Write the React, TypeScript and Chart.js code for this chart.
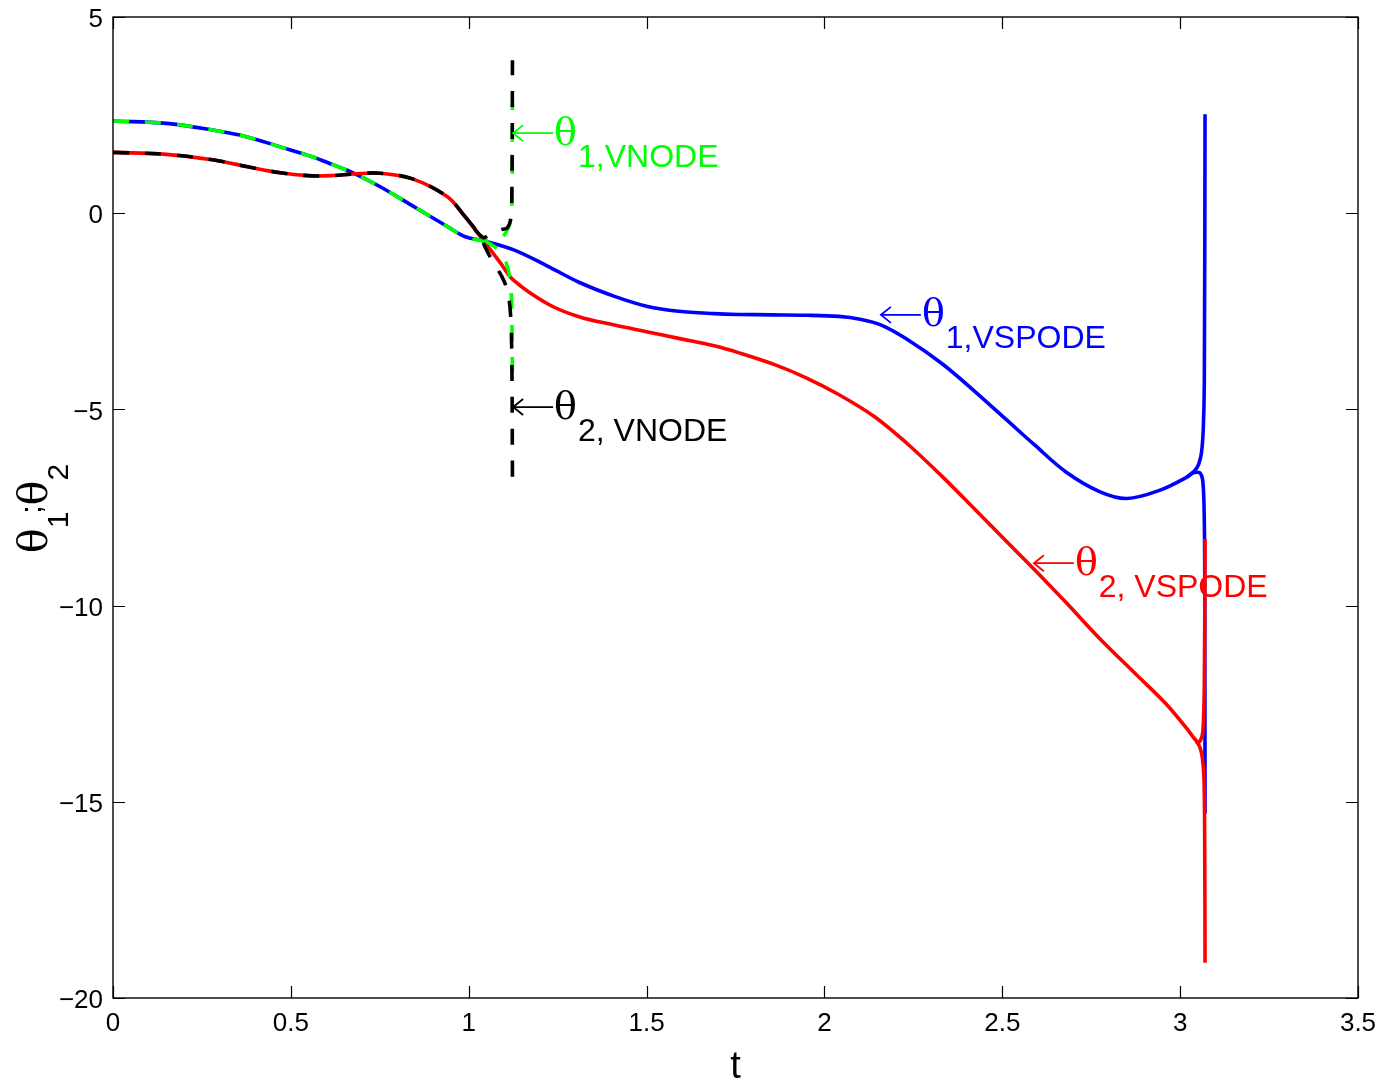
import React, { useEffect, useRef } from 'react';
import { Chart, registerables } from 'chart.js';

Chart.register(...registerables);

// ---------- data ----------
const xTickValues = [0, 0.5, 1, 1.5, 2, 2.5, 3, 3.5];
const xTickLabels = ['0', '0.5', '1', '1.5', '2', '2.5', '3', '3.5'];
const yTickValues = [-20, -15, -10, -5, 0, 5];
const yTickLabels = ['\u221220', '\u221215', '\u221210', '\u22125', '0', '5'];

// theta_1, VSPODE (blue, solid)
const tTheta1Vspode = [0, 0.15, 0.28, 0.375, 0.47, 0.56, 0.62, 0.675, 0.75, 0.84, 0.94, 0.99, 1.04, 1.125, 1.22, 1.31, 1.41, 1.5, 1.59, 1.69, 1.76, 1.85, 1.95, 2.04, 2.1, 2.16, 2.23, 2.33, 2.42, 2.51, 2.59, 2.68, 2.775, 2.85, 2.94, 3.02, 3.04, 3.052, 3.06, 3.065, 3.068, 3.07];
const theta1Vspode = [2.35, 2.29, 2.12, 1.95, 1.69, 1.44, 1.23, 1.03, 0.68, 0.2, -0.34, -0.6, -0.7, -0.93, -1.34, -1.76, -2.12, -2.37, -2.5, -2.56, -2.58, -2.59, -2.6, -2.63, -2.7, -2.85, -3.2, -3.83, -4.52, -5.25, -5.9, -6.6, -7.1, -7.27, -7.07, -6.72, -6.57, -6.4, -6.1, -5.5, -4.3, 2.52];
const tTheta1VspodeLow = [3.02, 3.035, 3.047, 3.056, 3.063, 3.067, 3.069, 3.07];
const theta1VspodeLow = [-6.72, -6.62, -6.6, -6.62, -6.78, -7.4, -9.0, -15.3];

// theta_2, VSPODE (red, solid)
const tTheta2Vspode = [0, 0.15, 0.28, 0.375, 0.47, 0.56, 0.62, 0.675, 0.75, 0.84, 0.94, 0.99, 1.04, 1.09, 1.125, 1.22, 1.31, 1.41, 1.5, 1.59, 1.69, 1.76, 1.86, 1.95, 2.04, 2.14, 2.23, 2.33, 2.42, 2.51, 2.59, 2.68, 2.775, 2.87, 2.96, 3.02, 3.05, 3.058, 3.064, 3.068, 3.07];
const theta2Vspode = [1.55, 1.5, 1.36, 1.19, 1.03, 0.95, 0.96, 1.0, 1.02, 0.88, 0.42, -0.09, -0.68, -1.28, -1.7, -2.3, -2.64, -2.85, -3.02, -3.19, -3.38, -3.56, -3.86, -4.2, -4.62, -5.18, -5.85, -6.7, -7.52, -8.35, -9.08, -9.93, -10.85, -11.7, -12.5, -13.15, -13.48, -13.42, -13.2, -12.0, -8.3];
const tTheta2VspodeLow = [3.045, 3.055, 3.062, 3.067, 3.069, 3.07];
const theta2VspodeLow = [-13.45, -13.6, -13.85, -14.4, -16, -19.1];

// theta_1, VNODE (green, dashed)
const tTheta1Vnode = [0, 0.15, 0.28, 0.375, 0.47, 0.56, 0.62, 0.675, 0.75, 0.84, 0.94, 0.99, 1.04, 1.065, 1.095, 1.11, 1.119, 1.122, 1.123];
const theta1Vnode = [2.35, 2.29, 2.12, 1.95, 1.69, 1.44, 1.23, 1.03, 0.68, 0.2, -0.34, -0.6, -0.7, -0.68, -0.6, -0.4, -0.1, 0.6, 2.8];
const tTheta1VnodeLow = [1.04, 1.06, 1.085, 1.105, 1.117, 1.121, 1.123];
const theta1VnodeLow = [-0.7, -0.78, -0.95, -1.25, -1.75, -2.6, -4.3];

// theta_2, VNODE (black, dashed)
const tTheta2Vnode = [0, 0.15, 0.28, 0.375, 0.47, 0.56, 0.62, 0.675, 0.75, 0.84, 0.94, 0.99, 1.04, 1.06, 1.074, 1.095, 1.108, 1.117, 1.121, 1.123];
const theta2Vnode = [1.55, 1.5, 1.36, 1.19, 1.03, 0.95, 0.96, 1.0, 1.02, 0.88, 0.42, -0.09, -0.62, -0.52, -0.47, -0.41, -0.38, -0.2, 0.3, 3.9];
const tTheta2VnodeLow = [0.99, 1.03, 1.046, 1.065, 1.094, 1.108, 1.117, 1.121, 1.123];
const theta2VnodeLow = [-0.09, -0.55, -0.86, -1.19, -1.63, -1.96, -2.5, -3.6, -6.8];

// annotations: arrow tip (t, value), subscript text, colour
const annoT = [1.122, 1.122, 2.156, 2.586];
const annoV = [2.04, -4.94, -2.59, -8.92];
const annoSub = ['1,VNODE', '2, VNODE', '1,VSPODE', '2, VSPODE'];
const annoColor = ['#00ff00', '#000000', '#0000ff', '#ff0000'];

const xTitle = 't';

// ---------- styling ----------
const SANS = '"Liberation Sans", Arial, Helvetica, sans-serif';
const GREEK = '"DejaVu Serif", "Liberation Serif", serif';
const W = 1385;
const H = 1085;

const pts = (t: number[], v: number[]) => t.map((x, i) => ({ x, y: v[i] }));

function solid(label: string, data: any, color: string, order: number) {
  return {
    label, data, borderColor: color, backgroundColor: color, borderWidth: 3.6,
    showLine: true, pointRadius: 0, tension: 0.35, order,
    borderJoinStyle: 'round',
  };
}
function dashed(label: string, data: any, color: string, order: number) {
  return { ...solid(label, data, color, order), borderDash: [16, 16], borderCapStyle: 'butt' };
}

const decorPlugin = {
  id: 'decor',
  afterDraw(chart: any) {
    const { ctx, chartArea: a, scales } = chart;
    const xs = scales.x;
    const ys = scales.y;
    ctx.save();
    // box
    ctx.strokeStyle = '#000';
    ctx.lineWidth = 1.4;
    ctx.strokeRect(a.left, a.top, a.right - a.left, a.bottom - a.top);
    // inward ticks
    const TL = 12;
    ctx.lineWidth = 1.2;
    ctx.beginPath();
    xTickValues.forEach((v) => {
      const px = Math.round(xs.getPixelForValue(v)) + 0.5;
      ctx.moveTo(px, a.bottom); ctx.lineTo(px, a.bottom - TL);
      ctx.moveTo(px, a.top); ctx.lineTo(px, a.top + TL);
    });
    yTickValues.forEach((v) => {
      const py = Math.round(ys.getPixelForValue(v)) + 0.5;
      ctx.moveTo(a.left, py); ctx.lineTo(a.left + TL, py);
      ctx.moveTo(a.right, py); ctx.lineTo(a.right - TL, py);
    });
    ctx.stroke();

    // x title
    ctx.fillStyle = '#000';
    ctx.font = `38px ${SANS}`;
    ctx.textAlign = 'center';
    ctx.textBaseline = 'alphabetic';
    ctx.fillText(xTitle, (a.left + a.right) / 2, 1078);

    // y title: theta_1 ; theta_2 rotated
    ctx.save();
    ctx.translate(47, 553);
    ctx.rotate(-Math.PI / 2);
    ctx.textAlign = 'left';
    let cx = 0;
    ctx.font = `41px ${GREEK}`;
    ctx.fillText('\u03b8', cx, 0);
    cx += ctx.measureText('\u03b8').width;
    ctx.font = `30px ${SANS}`;
    ctx.fillText('1', cx, 21);
    cx += ctx.measureText('1').width - 2;
    ctx.fillText(';', cx, -6);
    cx += ctx.measureText(';').width;
    ctx.font = `41px ${GREEK}`;
    ctx.fillText('\u03b8', cx, 0);
    cx += ctx.measureText('\u03b8').width;
    ctx.font = `30px ${SANS}`;
    ctx.fillText('2', cx, 21);
    ctx.restore();

    // annotations
    annoT.forEach((t, i) => {
      const px = xs.getPixelForValue(t);
      const py = ys.getPixelForValue(annoV[i]);
      const col = annoColor[i];
      ctx.strokeStyle = col;
      ctx.fillStyle = col;
      ctx.lineWidth = 1.8;
      ctx.beginPath();
      ctx.moveTo(px + 1, py); ctx.lineTo(px + 41, py);
      ctx.moveTo(px + 11, py - 8); ctx.lineTo(px + 1, py); ctx.lineTo(px + 11, py + 8);
      ctx.stroke();
      ctx.textAlign = 'left';
      ctx.textBaseline = 'alphabetic';
      ctx.font = `38px ${GREEK}`;
      const thx = px + 42;
      const thy = py + 11.5;
      ctx.fillText('\u03b8', thx, thy);
      const thw = ctx.measureText('\u03b8').width;
      ctx.font = `32px ${SANS}`;
      ctx.fillText(annoSub[i], thx + thw + 1, thy + 22);
    });
    ctx.restore();
  },
};

export default function App() {
  const ref = useRef<HTMLCanvasElement>(null);
  useEffect(() => {
    document.body.style.margin = '0';
    const canvas = ref.current;
    if (!canvas) return;
    const chart = new Chart(canvas, {
      type: 'scatter',
      data: {
        datasets: [
          solid('theta1 VSPODE', pts(tTheta1Vspode, theta1Vspode), '#0000ff', 4),
          solid('theta1 VSPODE b', pts(tTheta1VspodeLow, theta1VspodeLow), '#0000ff', 4),
          solid('theta2 VSPODE', pts(tTheta2Vspode, theta2Vspode), '#ff0000', 3),
          solid('theta2 VSPODE b', pts(tTheta2VspodeLow, theta2VspodeLow), '#ff0000', 3),
          dashed('theta1 VNODE', pts(tTheta1Vnode, theta1Vnode), '#00ff00', 2),
          dashed('theta1 VNODE b', pts(tTheta1VnodeLow, theta1VnodeLow), '#00ff00', 2),
          dashed('theta2 VNODE', pts(tTheta2Vnode, theta2Vnode), '#000000', 1),
          dashed('theta2 VNODE b', pts(tTheta2VnodeLow, theta2VnodeLow), '#000000', 1),
        ] as any,
      },
      options: {
        responsive: false,
        animation: false,
        devicePixelRatio: 1,
        layout: { padding: { top: 17, right: 27, left: 0, bottom: 0 } },
        plugins: { legend: { display: false }, tooltip: { enabled: false } },
        scales: {
          x: {
            type: 'linear', min: 0, max: 3.5,
            grid: { display: false, drawTicks: false },
            border: { display: false },
            afterBuildTicks: (s: any) => { s.ticks = xTickValues.map((v) => ({ value: v })); },
            afterFit: (s: any) => { s.height = H - 998; s.paddingLeft = 0; s.paddingRight = 0; },
            ticks: {
              padding: 10, color: '#000', maxRotation: 0, autoSkip: false,
              font: { family: SANS, size: 26 },
              callback: (_v: any, i: number) => xTickLabels[i],
            },
          },
          y: {
            type: 'linear', min: -20, max: 5,
            grid: { display: false, drawTicks: false },
            border: { display: false },
            afterBuildTicks: (s: any) => { s.ticks = yTickValues.map((v) => ({ value: v })); },
            afterFit: (s: any) => { s.width = 113; s.paddingTop = 0; s.paddingBottom = 0; },
            ticks: {
              padding: 10, color: '#000', autoSkip: false, labelOffset: 3,
              font: { family: SANS, size: 26 },
              callback: (_v: any, i: number) => yTickLabels[i],
            },
          },
        },
      } as any,
      plugins: [decorPlugin],
    });
    return () => chart.destroy();
  }, []);
  return (
    <div style={{ position: 'fixed', left: 0, top: 0, width: W, height: H, background: '#fff' }}>
      <canvas ref={ref} width={W} height={H} style={{ display: 'block', width: W, height: H }} />
    </div>
  );
}
